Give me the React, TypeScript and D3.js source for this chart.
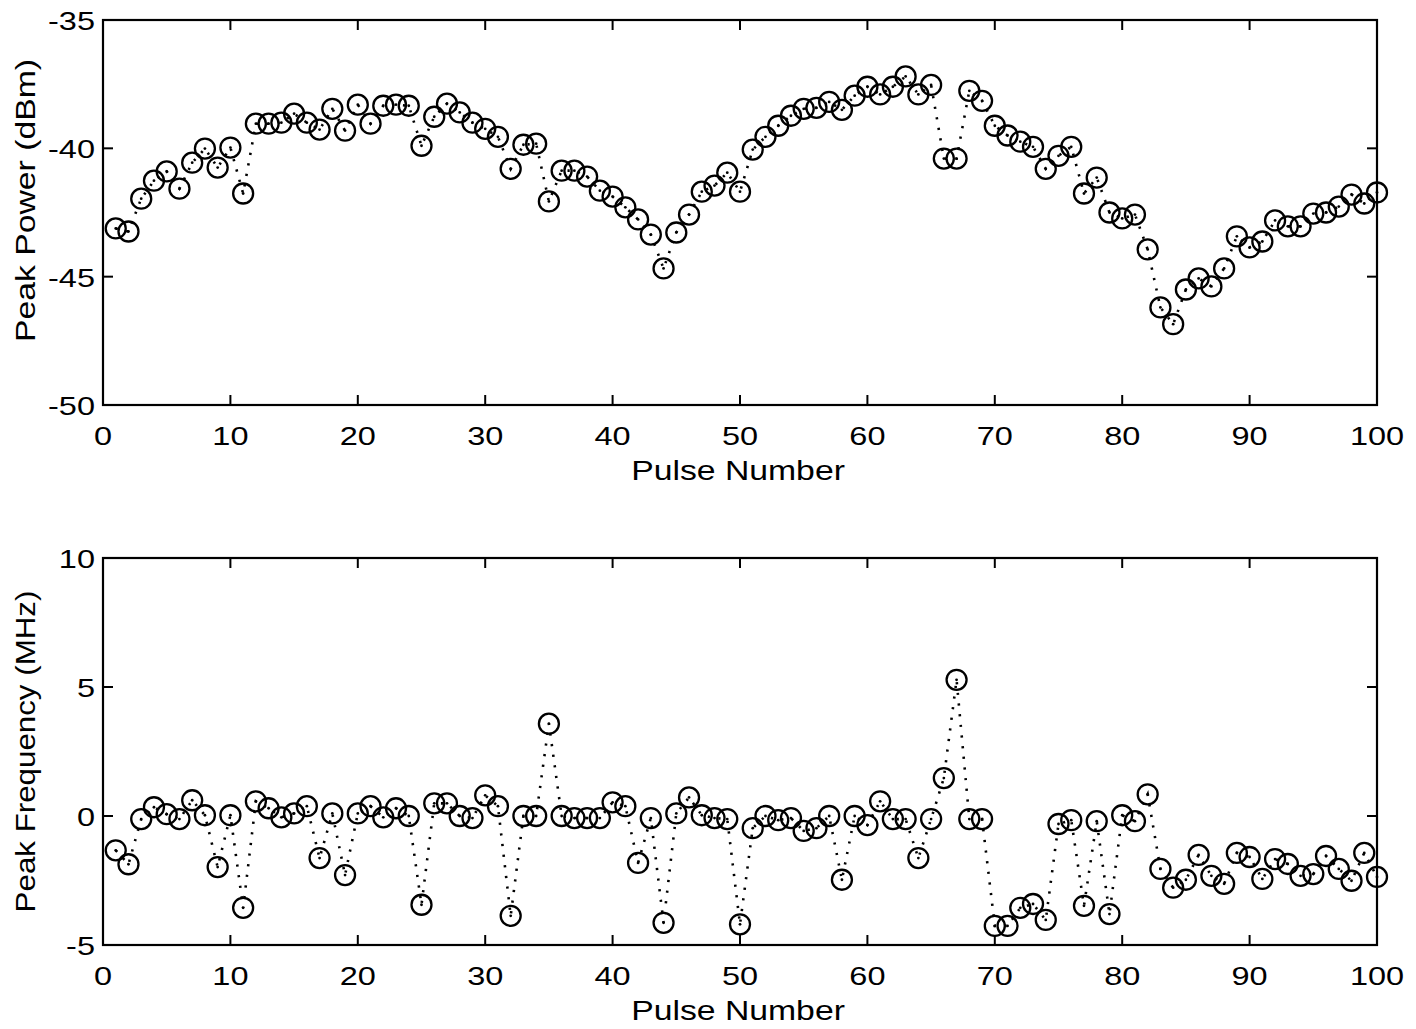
import React from "react";
import * as d3 from "d3";

const pulseNumbers: number[] = Array.from({ length: 100 }, (_, i) => i + 1);

const peakPower: number[] = [
  -43.12, -43.24, -41.96, -41.26, -40.9, -41.57, -40.56, -40.01, -40.75, -39.97,
  -41.76, -39.04, -39.04, -39.0, -38.65, -39.0, -39.27, -38.46, -39.31, -38.3,
  -39.04, -38.34, -38.3, -38.34, -39.9, -38.77, -38.26, -38.6, -39.0, -39.24,
  -39.55, -40.8, -39.86, -39.82, -42.07, -40.87, -40.87, -41.1, -41.65, -41.88,
  -42.3, -42.77, -43.36, -44.68, -43.28, -42.58, -41.69, -41.45, -40.95, -41.69,
  -40.05, -39.55, -39.12, -38.73, -38.46, -38.42, -38.19, -38.5, -37.95, -37.6,
  -37.9, -37.6, -37.2, -37.9, -37.53, -40.4, -40.4, -37.76, -38.15, -39.12,
  -39.5, -39.74, -39.94, -40.8, -40.29, -39.94, -41.76, -41.14, -42.5, -42.73,
  -42.58, -43.94, -46.2, -46.85, -45.5, -45.07, -45.38, -44.68, -43.43, -43.86,
  -43.63, -42.81, -43.04, -43.04, -42.54, -42.5, -42.27, -41.8, -42.15, -41.72,
];

const peakFrequency: number[] = [
  -1.33, -1.87, -0.12, 0.34, 0.07, -0.12, 0.61, 0.03, -1.98, 0.03,
  -3.56, 0.57, 0.3, -0.05, 0.1, 0.38, -1.63, 0.1, -2.29, 0.1,
  0.38, -0.05, 0.3, 0.0, -3.44, 0.49, 0.49, 0.0, -0.08, 0.8,
  0.38, -3.87, 0.0, 0.0, 3.58, 0.0, -0.08, -0.08, -0.08, 0.53,
  0.38, -1.82, -0.08, -4.14, 0.1, 0.72, 0.03, -0.08, -0.12, -4.2,
  -0.47, 0.0, -0.16, -0.08, -0.58, -0.47, 0.0, -2.47, 0.0, -0.35,
  0.57, -0.12, -0.12, -1.63, -0.12, 1.47, 5.28, -0.12, -0.12, -4.26,
  -4.26, -3.56, -3.41, -4.03, -0.31, -0.16, -3.48, -0.2, -3.8, 0.03,
  -0.2, 0.84, -2.05, -2.78, -2.47, -1.51, -2.32, -2.63, -1.43, -1.59,
  -2.44, -1.67, -1.86, -2.32, -2.25, -1.55, -2.05, -2.51, -1.43, -2.36,
];

const xTicks: number[] = [0, 10, 20, 30, 40, 50, 60, 70, 80, 90, 100];
const powerTicks: number[] = [-35, -40, -45, -50];
const freqTicks: number[] = [10, 5, 0, -5];

const FONT = "'Liberation Sans', Arial, Helvetica, sans-serif";
const STRETCH = 1.25;

type PanelProps = {
  top: number;
  bottom: number;
  yDomain: [number, number];
  yTicks: number[];
  values: number[];
  yLabel: string;
  yLabelShift: number;
  yLabelStretch: number;
};

const LEFT = 103;
const RIGHT = 1377;

function Panel({ top, bottom, yDomain, yTicks, values, yLabel, yLabelShift, yLabelStretch }: PanelProps) {
  const x = d3.scaleLinear().domain([0, 100]).range([LEFT, RIGHT]);
  const y = d3.scaleLinear().domain(yDomain).range([bottom, top]);
  const line = d3
    .line<number>()
    .x((_, i) => x(pulseNumbers[i]))
    .y((d) => y(d));
  const tl = 10;
  return (
    <g>
      <path
        d={line(values) || ""}
        fill="none"
        stroke="#000"
        strokeWidth={2.6}
        strokeDasharray="2.2 8.5"
      />
      {values.map((v, i) => (
        <g key={i}>
          <circle cx={x(pulseNumbers[i])} cy={y(v)} r={10} fill="none" stroke="#000" strokeWidth={2.3} />
          <circle cx={x(pulseNumbers[i])} cy={y(v)} r={1.4} fill="#000" />
        </g>
      ))}
      <rect x={LEFT} y={top} width={RIGHT - LEFT} height={bottom - top} fill="none" stroke="#000" strokeWidth={2.2} />
      {xTicks.map((t) => (
        <g key={"x" + t}>
          <line x1={x(t)} x2={x(t)} y1={bottom} y2={bottom - tl} stroke="#000" strokeWidth={2} />
          <line x1={x(t)} x2={x(t)} y1={top} y2={top + tl} stroke="#000" strokeWidth={2} />
          <text
            transform={`translate(${x(t)}, ${bottom + 40}) scale(${STRETCH}, 1)`}
            textAnchor="middle"
            fontFamily={FONT}
            fontSize={26}
            fill="#000"
          >
            {t}
          </text>
        </g>
      ))}
      {yTicks.map((t) => (
        <g key={"y" + t}>
          <line x1={LEFT} x2={LEFT + tl} y1={y(t)} y2={y(t)} stroke="#000" strokeWidth={2} />
          <line x1={RIGHT} x2={RIGHT - tl} y1={y(t)} y2={y(t)} stroke="#000" strokeWidth={2} />
          <text
            transform={`translate(${LEFT - 8}, ${y(t) + 10}) scale(${STRETCH}, 1)`}
            textAnchor="end"
            fontFamily={FONT}
            fontSize={26}
            fill="#000"
          >
            {t}
          </text>
        </g>
      ))}
      <text
        transform={`translate(${(LEFT + RIGHT) / 2 - 2}, ${bottom + 75}) scale(${STRETCH}, 1)`}
        textAnchor="middle"
        fontFamily={FONT}
        fontSize={27}
        fill="#000"
      >
        Pulse Number
      </text>
      <text
        transform={`translate(35, ${(top + bottom) / 2 + yLabelShift}) rotate(-90) scale(${yLabelStretch}, 1)`}
        textAnchor="middle"
        fontFamily={FONT}
        fontSize={27}
        fill="#000"
      >
        {yLabel}
      </text>
    </g>
  );
}

export default function App() {
  return (
    <svg
      width={1416}
      height={1029}
      style={{ position: "absolute", left: 0, top: 0, background: "#fff" }}
    >
      <rect x={0} y={0} width={1416} height={1029} fill="#fff" />
      <Panel
        top={20}
        bottom={405}
        yDomain={[-50, -35]}
        yTicks={powerTicks}
        values={peakPower}
        yLabel="Peak Power (dBm)"
        yLabelShift={-12}
        yLabelStretch={1.25}
      />
      <Panel
        top={558}
        bottom={945}
        yDomain={[-5, 10]}
        yTicks={freqTicks}
        values={peakFrequency}
        yLabel="Peak Frequency (MHz)"
        yLabelShift={0}
        yLabelStretch={1.16}
      />
    </svg>
  );
}
